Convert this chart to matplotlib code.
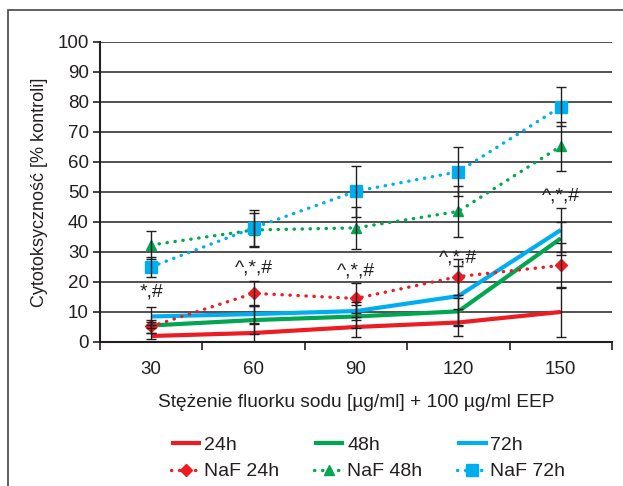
import matplotlib.pyplot as plt
import numpy as np
from matplotlib.patches import Rectangle

plt.rcParams['font.family'] = ['Liberation Sans', 'DejaVu Sans']

# Données
stezenia = ['30', '60', '90', '120', '150']

h24 = [2.0, 3.0, 5.0, 6.5, 10.0]
h48 = [5.5, 7.3, 8.5, 10.2, 34.5]
h72 = [8.5, 9.3, 10.3, 15.3, 37.3]
naf24 = [5.2, 16.2, 14.5, 21.8, 25.5]
naf48 = [32.3, 37.3, 38.0, 43.5, 65.2]
naf72 = [25.0, 38.0, 50.2, 56.7, 78.3]

err_h24 = [1.0, 3.0, 3.4, 4.4, 8.2]
err_h48 = [1.0, 4.7, 3.8, 4.5, 5.5]
err_h72 = [3.0, 3.0, 3.0, 10.0, 7.3]
err_naf24 = [2.2, 4.2, 5.0, 6.0, 7.5]
err_naf48 = [4.5, 5.8, 7.0, 8.5, 8.2]
err_naf72 = [3.3, 6.0, 8.5, 8.2, 6.5]

adnotacje = ['*,#', '^,*,#', '^,*,#', '^,*,#', '^,*,#']
adnotacje_y = [16.5, 24.5, 23.5, 28.0, 48.5]

red = '#ED1C24'
green = '#00A651'
blue = '#00AEEF'
ink = '#231F20'

fig = plt.figure(figsize=(6.23, 4.86), dpi=100)
ax = fig.add_axes([0.1605, 0.2963, 0.8218, 0.6179])

x = np.arange(len(stezenia))
dot = (0, (0.1, 2.3))

series = [
    (h24, err_h24, dict(color=red, lw=3.0, ls='-'), '24h'),
    (h48, err_h48, dict(color=green, lw=3.0, ls='-'), '48h'),
    (h72, err_h72, dict(color=blue, lw=3.0, ls='-'), '72h'),
    (naf24, err_naf24, dict(color=red, lw=2.4, ls=dot, marker='D', ms=6.5), 'NaF 24h'),
    (naf48, err_naf48, dict(color=green, lw=2.4, ls=dot, marker='^', ms=7.5), 'NaF 48h'),
    (naf72, err_naf72, dict(color=blue, lw=2.4, ls=dot, marker='s', ms=8), 'NaF 72h'),
]

handles = {}
for vals, err, style, name in series:
    ax.errorbar(x, vals, yerr=err, fmt='none', ecolor=ink, elinewidth=1.0,
                capsize=3.6, capthick=1.0, zorder=4)
    line, = ax.plot(x, vals, dash_capstyle='round', solid_capstyle='butt',
                    zorder=3, label=name, **style)
    handles[name] = line

for xi, txt, yi in zip(x, adnotacje, adnotacje_y):
    ax.text(xi, yi, txt, ha='center', va='center', fontsize=14, color=ink)

ax.set_xlim(-0.5, 4.5)
ax.set_ylim(0, 100)
ax.set_yticks(np.arange(0, 101, 10))
ax.set_xticks(x)
ax.set_xticklabels(stezenia)
ax.set_xticks(np.arange(-0.5, 4.6, 1), minor=True)
ax.tick_params(axis='x', which='major', length=0, pad=14, labelsize=13.5, labelcolor=ink)
ax.tick_params(axis='x', which='minor', length=6, width=1.2, color=ink, direction='out')
ax.tick_params(axis='y', length=5, width=1.2, color=ink, labelsize=13.5, labelcolor=ink, pad=3)
ax.grid(axis='y', color='#333333', lw=1.2)
ax.set_axisbelow(True)
for s in ['top', 'right']:
    ax.spines[s].set_visible(False)
for s in ['left', 'bottom']:
    ax.spines[s].set_color(ink)
    ax.spines[s].set_linewidth(1.5)

ax.set_ylabel('Cytotoksyczność [% kontroli]', fontsize=13, color=ink, labelpad=7)
ax.set_xlabel('Stężenie fluorku sodu [µg/ml] + 100 µg/ml EEP', fontsize=13.8,
              color=ink, labelpad=11)

order = ['24h', 'NaF 24h', '48h', 'NaF 48h', '72h', 'NaF 72h']
fig.legend([handles[k] for k in order], order, ncol=3, frameon=False,
           loc='center left', bbox_to_anchor=(171 / 623, 0.0566), fontsize=14,
           handlelength=1.55, handletextpad=0.15, columnspacing=1.8,
           labelspacing=0.45, borderpad=0, borderaxespad=0, labelcolor=ink)

# ramka wokół wykresu
fig.patches.append(Rectangle((8 / 623, -0.2), 1.5, 1.2 - 10 / 486,
                             transform=fig.transFigure, fill=False,
                             edgecolor='#444444', lw=1.2))

plt.savefig('out.png', dpi=100)
